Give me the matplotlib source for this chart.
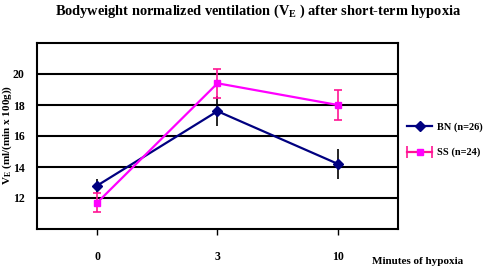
import matplotlib
matplotlib.use("Agg")
import matplotlib.pyplot as plt
from matplotlib.lines import Line2D
from matplotlib.legend_handler import HandlerLine2D, HandlerTuple

categories = ["0", "3", "10"]
bn_values = [12.8, 17.6, 14.2]
bn_err = [0.45, 0.95, 0.95]
ss_values = [11.7, 19.4, 18.0]
ss_err = [0.6, 0.95, 0.95]
yticks = [12, 14, 16, 18, 20]

plt.rcParams['font.family'] = ['Liberation Serif', 'DejaVu Serif']
plt.rcParams['font.weight'] = 'bold'
plt.rcParams['mathtext.fontset'] = 'custom'
plt.rcParams['mathtext.rm'] = 'Liberation Serif:bold'
plt.rcParams['mathtext.it'] = 'Liberation Serif:bold'
plt.rcParams['mathtext.bf'] = 'Liberation Serif:bold'

fig = plt.figure(figsize=(4.85, 2.72), dpi=100)
ax = fig.add_axes([37/485, 1-229/272, (398-37)/485, (229-43)/272])

x = list(range(len(categories)))
ax.errorbar(x, bn_values, yerr=bn_err, color='#000080', ecolor='black',
            elinewidth=1.2, capsize=0, marker='D', markersize=5, lw=1.6, zorder=3)
ax.errorbar(x, ss_values, yerr=ss_err, color='#FF00FF', ecolor='#FF1493',
            elinewidth=1.2, capsize=3, capthick=1.2, marker='s', markersize=5,
            lw=1.6, zorder=4)

ax.set_xlim(-0.5, 2.5)
ax.set_ylim(10, 22)
ax.set_yticks(yticks)
ax.set_yticklabels([str(t) for t in yticks], fontsize=8.5, fontweight='bold')
ax.set_xticks(x)
ax.set_xticklabels(categories, fontsize=8.5, fontweight='bold')
ax.tick_params(axis='y', length=0, pad=9)
ax.tick_params(axis='x', length=4, width=1, direction='out', pad=12)
for t in yticks:
    ax.axhline(t, color='black', lw=1.5, zorder=1)
for s in ax.spines.values():
    s.set_linewidth(1.5)
    s.set_color('black')

fig.text(258/485, 1-11/272, r"Bodyweight normalized ventilation (V$_{\mathrm{E}}$ ) after short-term hypoxia",
         ha='center', va='center', fontsize=10.4, fontweight='bold')
fig.text(7/485, 1-135/272, r"V$_{\mathrm{E}}$ (ml/(min x 100g))", rotation=90,
         ha='center', va='center', fontsize=8, fontweight='bold')
fig.text(372/485, 1-261/272, "Minutes of hypoxia", ha='left', va='center',
         fontsize=8, fontweight='bold')

bn_handle = Line2D([0], [0], color='#000080', marker='D', markersize=5, lw=1.6)
ss_caps = Line2D([0], [0], color='#FF1493', marker='|', markersize=9,
                 markeredgewidth=1.2, lw=1.6)
ss_line = Line2D([0], [0], color='#FF00FF', marker='s', markersize=5, lw=0)
fig.legend([bn_handle, (ss_caps, ss_line)], ["BN (n=26)", "SS (n=24)"],
           loc='center left', bbox_to_anchor=(398/485, 1-140/272), frameon=False,
           prop={'size': 7.5, 'weight': 'bold'}, handlelength=2.4,
           labelspacing=1.5, handletextpad=0.4,
           handler_map={ss_caps: HandlerLine2D(numpoints=2, marker_pad=0),
                        tuple: HandlerTuple(ndivide=1)})

fig.savefig("out.png", dpi=100)
